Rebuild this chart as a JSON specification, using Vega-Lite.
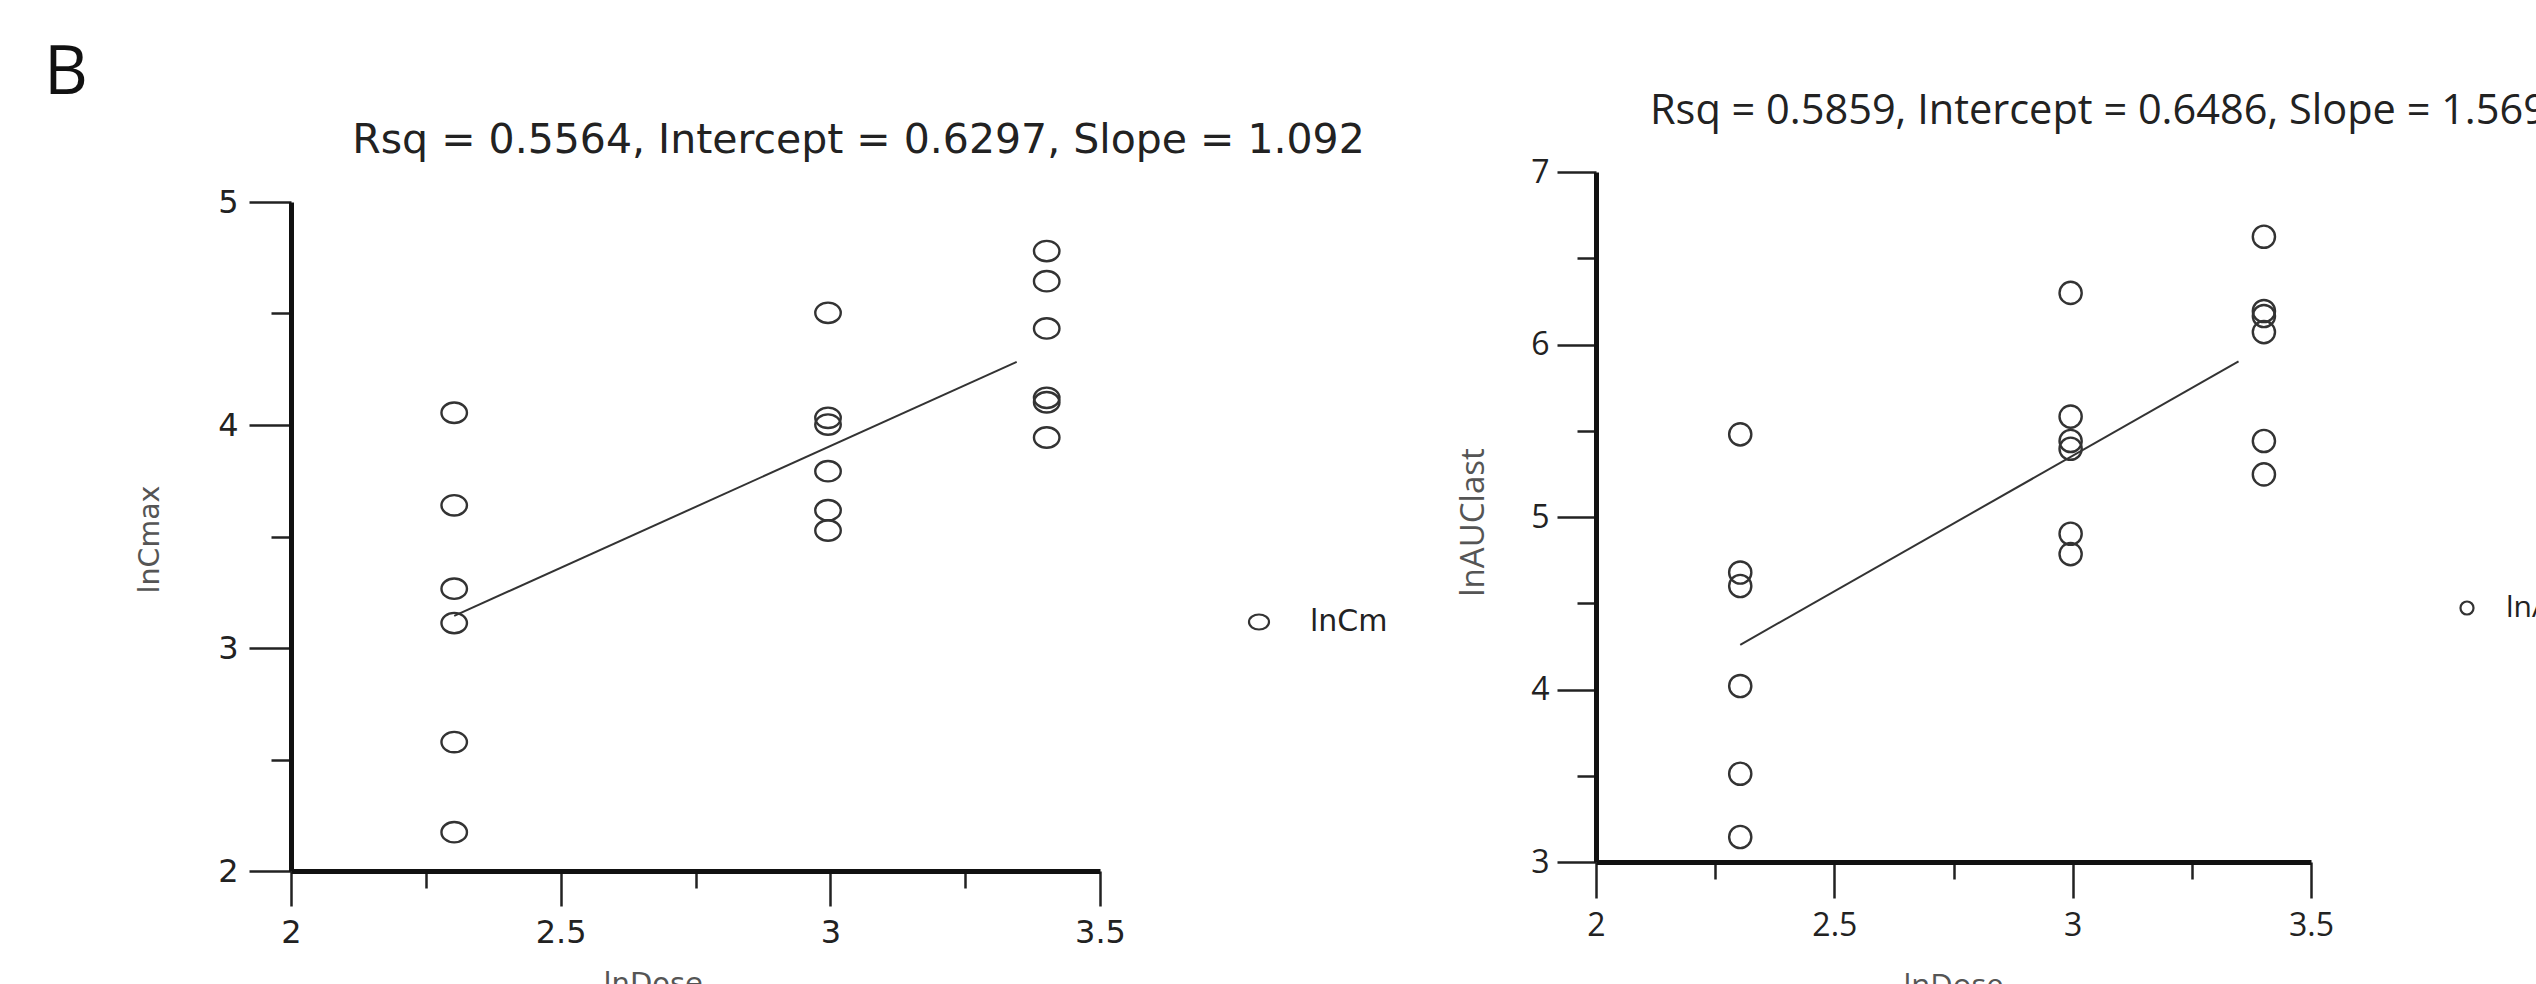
{
  "$schema": "https://vega.github.io/schema/vega-lite/v6.json",
  "background": "white",
  "padding": {"left": 44, "top": 39, "right": 0, "bottom": 0},
  "bounds": "flush",
  "spacing": 496,
  "title": {"text": "B", "font": "Open Sans", "fontSize": 68, "fontWeight": "normal", "color": "#111111", "anchor": "start", "frame": "group", "orient": "top", "dx": -247, "dy": 71, "baseline": "alphabetic", "offset": 0},
  "resolve": {"scale": {"color": "independent"}, "legend": {"color": "independent"}},
  "config": {"view": {"stroke": null}, "axis": {"grid": false}},
  "datasets": {
    "cmax": [
      {"x": 2.3026, "y": 4.055, "series": "lnCm"},
      {"x": 2.3026, "y": 3.640, "series": "lnCm"},
      {"x": 2.3026, "y": 3.266, "series": "lnCm"},
      {"x": 2.3026, "y": 3.112, "series": "lnCm"},
      {"x": 2.3026, "y": 2.578, "series": "lnCm"},
      {"x": 2.3026, "y": 2.174, "series": "lnCm"},
      {"x": 2.9957, "y": 4.503, "series": "lnCm"},
      {"x": 2.9957, "y": 4.032, "series": "lnCm"},
      {"x": 2.9957, "y": 4.002, "series": "lnCm"},
      {"x": 2.9957, "y": 3.793, "series": "lnCm"},
      {"x": 2.9957, "y": 3.618, "series": "lnCm"},
      {"x": 2.9957, "y": 3.527, "series": "lnCm"},
      {"x": 3.4012, "y": 4.780, "series": "lnCm"},
      {"x": 3.4012, "y": 4.645, "series": "lnCm"},
      {"x": 3.4012, "y": 4.433, "series": "lnCm"},
      {"x": 3.4012, "y": 4.122, "series": "lnCm"},
      {"x": 3.4012, "y": 4.102, "series": "lnCm"},
      {"x": 3.4012, "y": 3.944, "series": "lnCm"}
    ],
    "cmaxFit": [
      {"x": 2.3026, "y": 3.144},
      {"x": 3.3456, "y": 4.283}
    ],
    "auc": [
      {"x": 2.3026, "y": 5.479, "series": "lnAUClast"},
      {"x": 2.3026, "y": 4.678, "series": "lnAUClast"},
      {"x": 2.3026, "y": 4.600, "series": "lnAUClast"},
      {"x": 2.3026, "y": 4.020, "series": "lnAUClast"},
      {"x": 2.3026, "y": 3.512, "series": "lnAUClast"},
      {"x": 2.3026, "y": 3.145, "series": "lnAUClast"},
      {"x": 2.9957, "y": 6.299, "series": "lnAUClast"},
      {"x": 2.9957, "y": 5.582, "series": "lnAUClast"},
      {"x": 2.9957, "y": 5.441, "series": "lnAUClast"},
      {"x": 2.9957, "y": 5.396, "series": "lnAUClast"},
      {"x": 2.9957, "y": 4.903, "series": "lnAUClast"},
      {"x": 2.9957, "y": 4.785, "series": "lnAUClast"},
      {"x": 3.4012, "y": 6.625, "series": "lnAUClast"},
      {"x": 3.4012, "y": 6.194, "series": "lnAUClast"},
      {"x": 3.4012, "y": 6.165, "series": "lnAUClast"},
      {"x": 3.4012, "y": 6.072, "series": "lnAUClast"},
      {"x": 3.4012, "y": 5.441, "series": "lnAUClast"},
      {"x": 3.4012, "y": 5.247, "series": "lnAUClast"}
    ],
    "aucFit": [
      {"x": 2.3026, "y": 4.259},
      {"x": 3.348, "y": 5.902}
    ]
  },
  "hconcat": [
    {
      "width": 809,
      "height": 699,
      "title": {"text": "Rsq = 0.5564, Intercept = 0.6297, Slope = 1.092", "font": "DejaVu Sans", "fontSize": 41, "fontWeight": "normal", "color": "#222222", "anchor": "middle", "frame": "group", "dx": 163, "dy": 57, "baseline": "alphabetic", "offset": 35},
      "encoding": {
        "x": {
          "field": "x", "type": "quantitative",
          "scale": {"domain": [2, 3.5], "nice": false, "zero": false},
          "axis": {
            "values": [2, 2.25, 2.5, 2.75, 3, 3.25, 3.5],
            "format": "~g",
            "labelExpr": "datum.value % 0.5 === 0 ? datum.label : ''",
            "tickSize": {"condition": {"test": "datum.value % 0.5 === 0", "value": 35}, "value": 17},
            "tickWidth": 2.5, "tickColor": "#222222",
            "domainWidth": 5, "domainColor": "#111111",
            "labelFont": "DejaVu Sans", "labelFontSize": 32, "labelColor": "#222222",
            "labelPadding": 11, "labelFlush": false, "labelOverlap": false,
            "title": "lnDose", "titleFont": "DejaVu Sans", "titleFontSize": 29, "titleFontWeight": "normal", "titleColor": "#555555",
            "titleX": 312, "titleY": 98, "titleAlign": "left", "titleBaseline": "top",
            "grid": false
          }
        },
        "y": {
          "field": "y", "type": "quantitative",
          "scale": {"domain": [2, 5], "range": [699, 30], "nice": false, "zero": false},
          "axis": {
            "values": [2, 2.5, 3, 3.5, 4, 4.5, 5],
            "format": "~g",
            "labelExpr": "datum.value % 1 === 0 ? datum.label : ''",
            "tickSize": {"condition": {"test": "datum.value % 1 === 0", "value": 42}, "value": 20},
            "tickWidth": 2.5, "tickColor": "#222222",
            "domainWidth": 5, "domainColor": "#111111",
            "labelFont": "DejaVu Sans", "labelFontSize": 32, "labelColor": "#222222",
            "labelPadding": 11, "labelFlush": false, "labelOverlap": false,
            "title": "lnCmax", "titleFont": "DejaVu Sans", "titleFontSize": 28.5, "titleFontWeight": "normal", "titleColor": "#555555",
            "titleX": -142, "titleY": 367, "titleBaseline": "middle",
            "grid": false
          }
        }
      },
      "layer": [
        {
          "data": {"name": "cmax"},
          "mark": {"type": "point", "shape": "M-1,0A1,0.8,0,1,0,1,0A1,0.8,0,1,0,-1,0Z", "size": 650, "filled": false, "strokeWidth": 2.4, "opacity": 1},
          "encoding": {
            "color": {
              "field": "series", "type": "nominal",
              "scale": {"range": ["#333333"]},
              "legend": {"orient": "none", "legendX": 953, "legendY": 435, "title": null, "padding": 0,
                "symbolType": "M-1,0A1,0.75,0,1,0,1,0A1,0.75,0,1,0,-1,0Z", "symbolSize": 400, "symbolStrokeWidth": 2.2,
                "labelFont": "DejaVu Sans", "labelFontSize": 30, "labelColor": "#222222", "labelOffset": 36}
            }
          }
        },
        {
          "data": {"name": "cmaxFit"},
          "mark": {"type": "line", "color": "#333333", "strokeWidth": 2}
        }
      ]
    },
    {
      "width": 715,
      "height": 690,
      "title": {"text": "Rsq = 0.5859, Intercept = 0.6486, Slope = 1.569", "font": "Open Sans", "fontSize": 41.5, "fontWeight": "normal", "color": "#222222", "anchor": "start", "frame": "group", "dx": 54, "dy": 44, "baseline": "alphabetic", "offset": 35},
      "encoding": {
        "x": {
          "field": "x", "type": "quantitative",
          "scale": {"domain": [2, 3.5], "nice": false, "zero": false},
          "axis": {
            "values": [2, 2.25, 2.5, 2.75, 3, 3.25, 3.5],
            "format": "~g",
            "labelExpr": "datum.value % 0.5 === 0 ? datum.label : ''",
            "tickSize": {"condition": {"test": "datum.value % 0.5 === 0", "value": 36}, "value": 17},
            "tickWidth": 2.5, "tickColor": "#222222",
            "domainWidth": 5, "domainColor": "#111111",
            "labelFont": "Open Sans", "labelFontSize": 32, "labelColor": "#222222",
            "labelPadding": 12, "labelFlush": false, "labelOverlap": false,
            "title": "lnDose", "titleFont": "Open Sans", "titleFontSize": 31, "titleFontWeight": "normal", "titleColor": "#555555",
            "titleX": 307, "titleY": 109, "titleAlign": "left", "titleBaseline": "top",
            "grid": false
          }
        },
        "y": {
          "field": "y", "type": "quantitative",
          "scale": {"domain": [3, 7], "nice": false, "zero": false},
          "axis": {
            "values": [3, 3.5, 4, 4.5, 5, 5.5, 6, 6.5, 7],
            "format": "~g",
            "labelExpr": "datum.value % 1 === 0 ? datum.label : ''",
            "tickSize": {"condition": {"test": "datum.value % 1 === 0", "value": 39}, "value": 19},
            "tickWidth": 2.5, "tickColor": "#222222",
            "domainWidth": 5, "domainColor": "#111111",
            "labelFont": "Open Sans", "labelFontSize": 32, "labelColor": "#222222",
            "labelPadding": 8, "labelFlush": false, "labelOverlap": false,
            "title": "lnAUClast", "titleFont": "Open Sans", "titleFontSize": 33, "titleFontWeight": "normal", "titleColor": "#555555",
            "titleX": -123, "titleY": 350, "titleBaseline": "middle",
            "grid": false
          }
        }
      },
      "layer": [
        {
          "data": {"name": "auc"},
          "mark": {"type": "point", "shape": "circle", "size": 493, "filled": false, "strokeWidth": 2.4, "opacity": 1},
          "encoding": {
            "color": {
              "field": "series", "type": "nominal",
              "scale": {"range": ["#333333"]},
              "legend": {"orient": "none", "legendX": 856, "legendY": 421, "title": null, "padding": 0,
                "symbolType": "circle", "symbolSize": 170, "symbolStrokeWidth": 2.2,
                "labelFont": "Open Sans", "labelFontSize": 30, "labelColor": "#222222", "labelOffset": 24}
            }
          }
        },
        {
          "data": {"name": "aucFit"},
          "mark": {"type": "line", "color": "#333333", "strokeWidth": 2}
        }
      ]
    }
  ]
}
